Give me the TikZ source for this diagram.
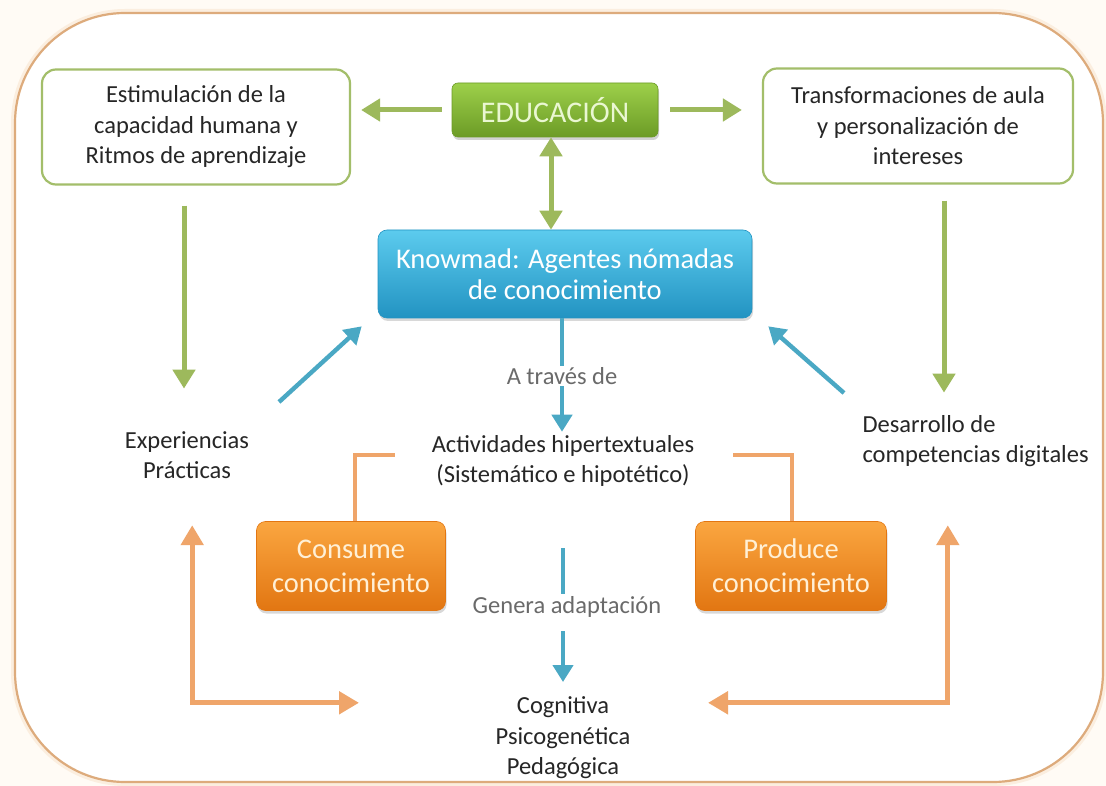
\documentclass[tikz,border=0pt]{standalone}
\usepackage{fontspec}
\setmainfont{Carlito}
\usetikzlibrary{arrows.meta,calc,shadows}
\definecolor{gline}{HTML}{A3BE6A}
\definecolor{garrowc}{HTML}{9DB95C}
\definecolor{bline}{HTML}{4AA8C4}
\definecolor{oline}{HTML}{EFA56A}
\definecolor{framec}{HTML}{DDAB7C}
\definecolor{glowc}{HTML}{FBEEDF}
\definecolor{txt}{HTML}{262626}
\definecolor{gtxt}{HTML}{6A6A6A}
\definecolor{HTMLgreenA}{HTML}{9DD04A}
\definecolor{HTMLgreenB}{HTML}{6C9B26}
\definecolor{HTMLgreenT}{HTML}{EAF7D2}
\definecolor{HTMLblueA}{HTML}{5CCBEE}
\definecolor{HTMLblueB}{HTML}{2293C2}
\definecolor{HTMLorA}{HTML}{FAA640}
\definecolor{HTMLorB}{HTML}{E27612}
\definecolor{HTMLorT}{HTML}{FFF0D6}
\tikzset{
  body/.style={font=\fontsize{24.5}{30.5}\selectfont, text=txt, align=center},
  outbox/.style={body, draw=gline, line width=2.2pt, rounded corners=14pt, fill=white,
     minimum width=308pt, minimum height=115pt},
  edubox/.style={rounded corners=6pt, top color=HTMLgreenA, bottom color=HTMLgreenB,
     draw=HTMLgreenB, line width=0.6pt, minimum width=206pt, minimum height=54pt,
     text=HTMLgreenT, font=\fontsize{30}{34}\selectfont,
     drop shadow={opacity=0.35, shadow xshift=1pt, shadow yshift=-3pt}},
  knowbox/.style={rounded corners=9pt, top color=HTMLblueA, bottom color=HTMLblueB,
     draw=HTMLblueB, line width=0.6pt, minimum width=374pt, minimum height=88pt,
     text=white, align=center, font=\fontsize{28.5}{31}\selectfont,
     drop shadow={opacity=0.3, shadow xshift=1pt, shadow yshift=-3pt}},
  orbox/.style={rounded corners=9pt, top color=HTMLorA, bottom color=HTMLorB,
     draw=HTMLorB, line width=0.6pt, minimum width=189pt, minimum height=89pt,
     text=HTMLorT, align=center, font=\fontsize{28.5}{34}\selectfont,
     drop shadow={opacity=0.3, shadow xshift=1pt, shadow yshift=-3pt}},
  garr/.style={draw=garrowc, line width=5pt, -{Triangle[length=19pt,width=22pt]}},
  gdarr/.style={draw=garrowc, line width=5pt, {Triangle[length=19pt,width=22pt]}-{Triangle[length=19pt,width=22pt]}},
  barr/.style={draw=bline, line width=4.4pt, -{Triangle[length=17pt,width=20pt]}},
  bseg/.style={draw=bline, line width=4.4pt},
  obr/.style={draw=oline, line width=4.6pt},
  oarr/.style={draw=oline, line width=5pt, {Triangle[length=20pt,width=22pt]}-{Triangle[length=20pt,width=22pt]}},
}
\begin{document}
\begin{tikzpicture}[x=1pt,y=-1pt]
\useasboundingbox (0,0) rectangle (1106,786);
\fill[HTMLorT!25] (0,0) rectangle (1106,786);
\draw[glowc, line width=8pt, rounded corners=110pt] (15,13) rectangle (1103,782);
\draw[framec, fill=white, line width=2.2pt, rounded corners=110pt] (15,13) rectangle (1103,782);

% boxes
\node[outbox] (estim) at (196,127) {Estimulación de la\\capacidad humana y\\Ritmos de aprendizaje};
\node[outbox, minimum width=310pt] (transf) at (918,126) {Transformaciones de aula\\y personalización de\\intereses};
\node[edubox] (edu) at (555,110) {EDUCACIÓN};
\node[knowbox] (know) at (565,274) {Knowmad: Agentes nómadas\\de conocimiento};
\node[orbox] (consume) at (351,566) {Consume\\conocimiento};
\node[orbox, minimum width=191pt] (produce) at (791,566) {Produce\\conocimiento};

% texts
\node[body] (exper) at (187,455) {Experiencias\\Prácticas};
\node[body] (activ) at (563,461) {Actividades hipertextuales\\(Sistemático e hipotético)};
\node[body, align=left, anchor=west] (desarr) at (859,441) {Desarrollo de\\competencias digitales};
\node[body] (cogn) at (563,738) {Cognitiva\\Psicogenética\\Pedagógica};

% green arrows
\draw[garr] ([xshift=-10pt]edu.west) -- ([xshift=10pt]edu.west -| estim.east);
\draw[garr] ([xshift=12pt]edu.east) -- ([xshift=-20pt]edu.east -| transf.west);
\draw[gdarr] ([xshift=-4pt]edu.south) -- ([xshift=-14pt]know.north);
\draw[garr] ([xshift=-12pt,yshift=-20pt]estim.south) -- ([xshift=-12pt,yshift=-203pt]estim.south);
\draw[garr] ([xshift=26pt,yshift=-16pt]transf.south) -- ([xshift=26pt,yshift=-208pt]transf.south);

% blue arrows
\draw[barr] ([xshift=92pt,yshift=53pt]exper.center) -- ([xshift=-16pt,yshift=-8pt]know.south west);
\draw[barr] ([xshift=-15pt,yshift=48pt]desarr.west) -- ([xshift=16pt,yshift=-8pt]know.south east);
\draw[barr] ([xshift=-3pt]know.south) -- ([xshift=-3pt]know.south |- activ.north);
\node[body, text=gtxt, fill=white, inner sep=1pt] (atraves) at (562,376) {A través de};
\node[body, text=gtxt] (genera) at (567,607) {Genera adaptación};
\draw[bseg] ([xshift=-4pt,yshift=59pt]genera.center) -- ([xshift=-4pt,yshift=13pt]genera.center);
\draw[barr] ([xshift=-4pt,yshift=-24pt]genera.center) -- ([xshift=-4pt,yshift=-75pt]genera.center);

% orange brackets
\draw[obr] ([xshift=4pt]consume.north) |- ([xshift=-33pt,yshift=6pt]activ.west);
\draw[obr] ([xshift=1pt]produce.north) |- ([xshift=35pt,yshift=6pt]activ.east);

% orange L arrows
\draw[oarr] ([xshift=-64pt,yshift=-4pt]consume.north west) |- ([xshift=8pt,yshift=-92pt]consume.south);
\draw[oarr] ([xshift=61pt,yshift=-4pt]produce.north east) |- ([xshift=-83pt,yshift=-92pt]produce.south);
\end{tikzpicture}
\end{document}
